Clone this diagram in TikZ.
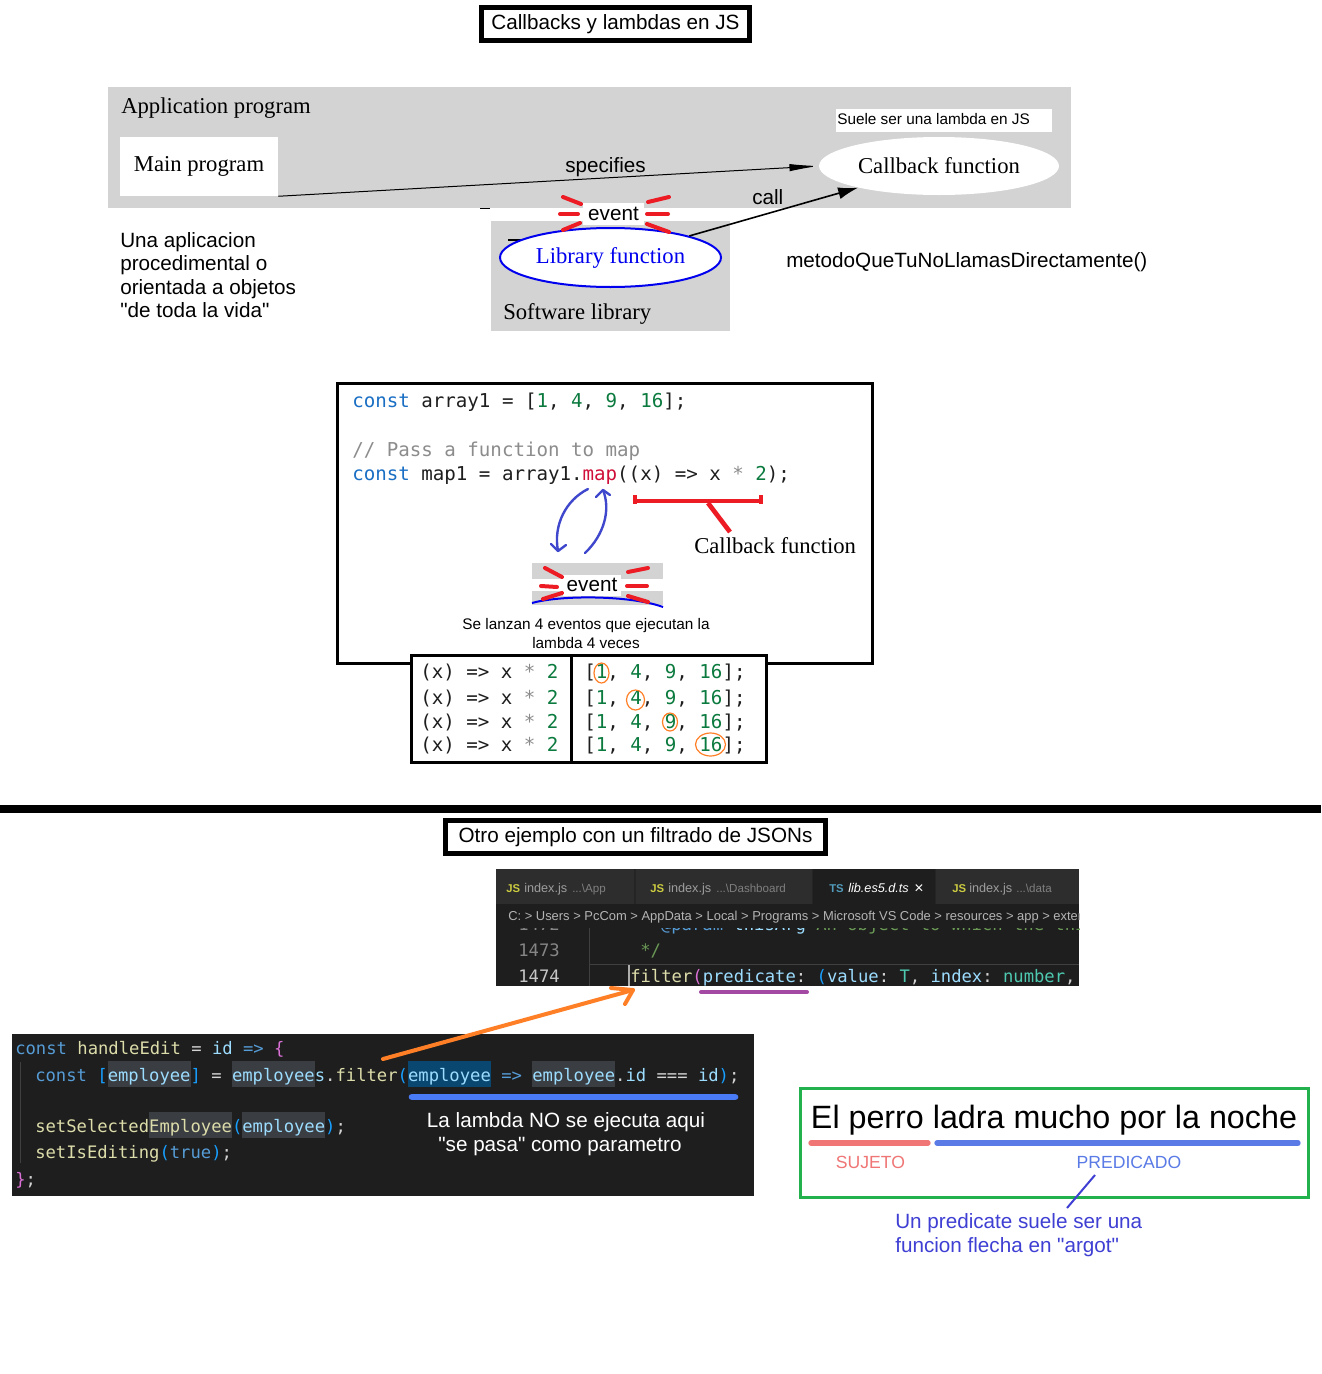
\documentclass[tikz,border=0pt]{standalone}
\usepackage{fontspec}
\setmainfont{Liberation Serif}
\setsansfont{Liberation Sans}[Ligatures=TeXOff]
\setmonofont{DejaVu Sans Mono}
\usetikzlibrary{arrows.meta,shapes.geometric}
\definecolor{appgray}{HTML}{D3D3D3}
\definecolor{evred}{HTML}{ED1C24}
\definecolor{libblue}{HTML}{0000EE}
\definecolor{arrblue}{HTML}{3F48CC}
\definecolor{jskw}{HTML}{1A6FC4}
\definecolor{jsnum}{HTML}{0B7A3E}
\definecolor{jsmap}{HTML}{D0103A}
\definecolor{jscom}{HTML}{8C8C8C}
\definecolor{jstx}{HTML}{1E1E1E}
\definecolor{circ}{HTML}{FF7F27}
\definecolor{vsbg}{HTML}{1E1E1E}
\definecolor{vstabbar}{HTML}{252526}
\definecolor{vstab}{HTML}{2D2D2D}
\definecolor{vskw}{HTML}{569CD6}
\definecolor{vsfn}{HTML}{DCDCAA}
\definecolor{vsvar}{HTML}{9CDCFE}
\definecolor{vstx}{HTML}{D4D4D4}
\definecolor{vspink}{HTML}{DA70D6}
\definecolor{vsbr}{HTML}{179FFF}
\definecolor{vstype}{HTML}{4EC9B0}
\definecolor{vscom}{HTML}{6A9955}
\definecolor{vshlg}{HTML}{3A3D41}
\definecolor{vshlb}{HTML}{094771}
\definecolor{vsln}{HTML}{858585}
\definecolor{vslnact}{HTML}{C6C6C6}
\definecolor{vsguide}{HTML}{404040}
\definecolor{vscursor}{HTML}{AEAFAD}
\definecolor{jsyel}{HTML}{CBCB41}
\definecolor{tsblue}{HTML}{519ABA}
\definecolor{tabtxt}{HTML}{9D9D9D}
\definecolor{tabpath}{HTML}{7F7F7F}
\definecolor{crumbtxt}{HTML}{B4B4B4}
\definecolor{orarr}{HTML}{FF7F27}
\definecolor{purp}{HTML}{A349A4}
\definecolor{ulblue}{HTML}{4A7BF7}
\definecolor{gbox}{HTML}{22B14C}
\definecolor{sred}{HTML}{F07575}
\definecolor{sblue}{HTML}{5A7AE6}
\definecolor{noteblue}{HTML}{3F3FD4}
\newcommand\colt[2]{\textcolor{#1}{#2}}
\newcommand\codehlg[1]{{\setlength{\fboxsep}{0pt}\colorbox{vshlg}{\rule[-4.5pt]{0pt}{19.5pt}#1}}}
\newcommand\codehlb[1]{{\setlength{\fboxsep}{0pt}\colorbox{vshlb}{\rule[-4.5pt]{0pt}{19.5pt}#1}}}
\tikzset{
  sans/.style={font=\sffamily\fontsize{15.5}{18}\selectfont, inner sep=0pt},
  sanssmall/.style={font=\sffamily\fontsize{11.5}{14}\selectfont, inner sep=0pt},
  serif/.style={font=\rmfamily\fontsize{17}{20}\selectfont, inner sep=0pt},
  codeA/.style={font=\ttfamily\fontsize{14.35}{17}\selectfont, anchor=base west, inner sep=0pt, text=jstx},
  codeB/.style={font=\ttfamily\fontsize{12.9}{15}\selectfont, anchor=base west, inner sep=0pt, text=vstx},
  evdash/.style={draw=evred, line width=3pt, line cap=round},
  bluearr/.style={draw=arrblue, line width=1.8pt, line cap=round, line join=round},
  redline/.style={draw=evred, line width=3.5pt},
  circmark/.style={draw=circ, line width=0.9pt},
  orstyle/.style={draw=orarr, line width=3pt, line cap=round, line join=round},
  tabicon/.style={font=\sffamily\bfseries\fontsize{8.5}{10}\selectfont, anchor=base west, inner sep=0pt},
  tabname/.style={font=\sffamily\fontsize{9.5}{11}\selectfont, anchor=base west, inner sep=0pt, text=tabtxt},
  tabpathst/.style={font=\sffamily\fontsize{8.7}{10}\selectfont, anchor=base west, inner sep=0pt, text=tabpath},
}
\begin{document}
\begin{tikzpicture}[x=0.75pt,y=-0.75pt]
\fill[white] (0,0) rectangle (1321,1374);
\useasboundingbox (0,0) rectangle (1321,1374);

% ---------- title 1
\node[sans, draw, line width=3.75pt, minimum width=201pt, minimum height=24.75pt] (title1) at (615.5,24) {Callbacks y lambdas en JS};

% ---------- application program
\fill[appgray] (108,87) rectangle (1071,208);
\node[serif, anchor=base west] (apptitle) at (121,113) {Application program};
\node[serif, fill=white, minimum width=118.5pt, minimum height=44.25pt] (main) at (199,166.5) {Main program};
\node[serif, ellipse, fill=white, minimum width=180pt, minimum height=43.5pt] (cb) at (939,166) {Callback function};
\fill[white] (836,109) rectangle (1052,132);
\node[sanssmall, anchor=base west] (suele) at (837,124) {Suele ser una lambda en JS};

% ---------- software library
\fill[appgray] (491,221) rectangle (730,331);
\draw[line width=0.9pt] (480,208.5) -- (490,208.5);
\draw[line width=1.2pt] (508,240) -- (524,240);
\node[serif, anchor=base west] (swlib) at (503,319) {Software library};
\node[serif, ellipse, draw=libblue, line width=1.5pt, fill=white, text=libblue, minimum width=165.75pt, minimum height=44.25pt] (lib) at (610.5,257.5) {Library function};

% event 1
\node[sans, fill=white, minimum width=45.75pt, minimum height=16.5pt] (ev1) at (613.5,214) {event};
\draw[evdash] (563,197)--(581,204);
\draw[evdash] (560,214)--(578,214);
\draw[evdash] (563,230)--(580,223);
\draw[evdash] (648,202)--(669,197);
\draw[evdash] (647,214)--(668,214);
\draw[evdash] (647,224)--(669,232);

% connectors
\draw[line width=0.75pt, -{Latex[length=22pt,width=5.5pt]}] (main.south east) -- (cb.west);
\node[sans, anchor=base west] (spec) at (565,172) {specifies};
\draw[line width=1.2pt, -{Latex[length=15pt,width=9pt]}] (lib.north east) -- (cb.195);
\node[sans, anchor=base west] (calllbl) at (752,204) {call};

\node[sans, anchor=base west] (metodo) at (786,267) {metodoQueTuNoLlamasDirectamente()};
\node[sans, anchor=base west] (una1) at (120,247) {Una aplicacion};
\node[sans, anchor=base west] (una2) at (120,270.5) {procedimental o};
\node[sans, anchor=base west] (una3) at (120,294) {orientada a objetos};
\node[sans, anchor=base west] (una4) at (120,317.5) {"de toda la vida"};

% ---------- map example
\draw[line width=2.25pt] (337,383) rectangle (872,663);
\node[codeA] (code1) at (352,407) {\colt{jskw}{const} array1 = [\colt{jsnum}{1}, \colt{jsnum}{4}, \colt{jsnum}{9}, \colt{jsnum}{16}];};
\node[codeA] (code2) at (352,456) {\colt{jscom}{// Pass a function to map}};
\node[codeA] (code3) at (352,480) {\colt{jskw}{const} map1 = array1.\colt{jsmap}{map}((x) => x \colt{jscom}{*} \colt{jsnum}{2});};

% red bracket
\draw[redline] (635,495) -- (635,504);
\draw[redline] (635,501) -- (761,501);
\draw[redline] (761,495) -- (761,504);
\draw[redline] (708,503) -- (730,532);
\node[serif, anchor=base west] (cbf2) at (694,553) {Callback function};

% event 2
\fill[appgray] (532,563) rectangle (663,579);
\fill[appgray] (532,591) rectangle (663,605);
\node[sans, fill=white, minimum width=43.5pt, minimum height=15.75pt] (ev2) at (592,585) {event};
\draw[libblue, line width=1.5pt] (532,603) .. controls (560,595) and (630,595) .. (663,607);
\draw[evdash] (545,568)--(562,577);
\draw[evdash] (541,586)--(557,587);
\draw[evdash] (543,599)--(562,593);
\draw[evdash] (628,572)--(648,568);
\draw[evdash] (627,586)--(647,586);
\draw[evdash] (628,596)--(648,602);

% blue arrows
\coordinate (ma1) at (588,489);
\coordinate (ev2a) at (558,551);
\draw[bluearr] (ma1) .. controls (566,500) and (553,525) .. (ev2a);
\draw[bluearr] (551,544) -- (ev2a) -- (566,545);
\coordinate (ev2b) at (585,553);
\coordinate (ma2) at (603,490);
\draw[bluearr] (ev2b) .. controls (604,535) and (611,510) .. (ma2);
\draw[bluearr] (596,497) -- (ma2) -- (610,495);

\node[sanssmall, anchor=base] (se1) at (586,629) {Se lanzan 4 eventos que ejecutan la};
\node[sanssmall, anchor=base] (se2) at (586,648) {lambda 4 veces};

% table
\draw[line width=2.25pt, fill=white] (411,655) rectangle (766,762);
\draw[line width=2.25pt] (571,655) -- (571,762);
\node[codeA] (fl1) at (420,678) {(x) => x \colt{jscom}{*} \colt{jsnum}{2}};
\node[codeA] (fl2) at (420,704) {(x) => x \colt{jscom}{*} \colt{jsnum}{2}};
\node[codeA] (fl3) at (420,728) {(x) => x \colt{jscom}{*} \colt{jsnum}{2}};
\node[codeA] (fl4) at (420,751) {(x) => x \colt{jscom}{*} \colt{jsnum}{2}};
\node[codeA] (fr1) at (584,678) {[\colt{jsnum}{1}, \colt{jsnum}{4}, \colt{jsnum}{9}, \colt{jsnum}{16}];};
\node[codeA] (fr2) at (584,704) {[\colt{jsnum}{1}, \colt{jsnum}{4}, \colt{jsnum}{9}, \colt{jsnum}{16}];};
\node[codeA] (fr3) at (584,728) {[\colt{jsnum}{1}, \colt{jsnum}{4}, \colt{jsnum}{9}, \colt{jsnum}{16}];};
\node[codeA] (fr4) at (584,751) {[\colt{jsnum}{1}, \colt{jsnum}{4}, \colt{jsnum}{9}, \colt{jsnum}{16}];};
\draw[circmark] (601.5,673) ellipse [x radius=7.5, y radius=10];
\draw[circmark] (635.5,700) ellipse [x radius=9, y radius=10];
\draw[circmark] (670,722) ellipse [x radius=7.5, y radius=9];
\draw[circmark] (710.5,744.5) ellipse [x radius=15, y radius=11.5];

% ---------- divider
\draw[line width=6pt] (0,809) -- (1321,809);
\node[sans, draw, line width=3.75pt, minimum width=285pt, minimum height=24.75pt] (title2) at (635.5,837) {Otro ejemplo con un filtrado de JSONs};

% ---------- VS Code
\fill[vstabbar] (496,869) rectangle (1079,904);
\fill[vstab] (496,869) rectangle (634,904);
\fill[vstab] (636,869) rectangle (812,904);
\fill[vsbg] (813,869) rectangle (935,904);
\fill[vstab] (936,869) rectangle (1079,904);
\fill[vsbg] (496,904) rectangle (1079,986);
\node[tabicon, text=jsyel] (t1i) at (506,892) {JS};
\node[tabname] (t1n) at (524,892) {index.js};
\node[tabpathst] (t1p) at (572,892) {...\textbackslash App};
\node[tabicon, text=jsyel] (t2i) at (650,892) {JS};
\node[tabname] (t2n) at (668,892) {index.js};
\node[tabpathst] (t2p) at (716,892) {...\textbackslash Dashboard};
\node[tabicon, text=tsblue] (t3i) at (829,892) {TS};
\node[tabname, text=white, font=\sffamily\itshape\fontsize{9.5}{11}\selectfont] (t3n) at (848,892) {lib.es5.d.ts};
\node[tabname, text=white, font=\sffamily\fontsize{12}{14}\selectfont] (t3x) at (914,893) {×};
\node[tabicon, text=jsyel] (t4i) at (952,892) {JS};
\node[tabname] (t4n) at (969,892) {index.js};
\node[tabpathst] (t4p) at (1016,892) {...\textbackslash data};
\begin{scope}
\clip (496,904) rectangle (1079,928);
\node[tabname, text=crumbtxt, font=\sffamily\fontsize{9.7}{11}\selectfont] (crumb) at (508,920) {C: > Users > PcCom > AppData > Local > Programs > Microsoft VS Code > resources > app > extensions};
\end{scope}
\begin{scope}
\clip (496,928) rectangle (1079,986);
\draw[vsguide, line width=0.75pt] (589,928) -- (589,986);
\draw[vsguide, line width=0.75pt] (589,964) -- (1079,964);
\draw[vscursor, line width=1.2pt] (629,965) -- (629,986);
\node[codeB, anchor=base east, text=vsln] (ln1) at (560,930) {1472};
\node[codeB, anchor=base east, text=vsln] (ln2) at (560,956) {1473};
\node[codeB, anchor=base east, text=vslnact] (ln3) at (560,982) {1474};
\node[codeB] (v1472) at (640,930) {\colt{vscom}{*} \colt{vskw}{@param} \colt{vsvar}{thisArg} \colt{vscom}{An object to which the this keyword can refer}};
\node[codeB] (v1473) at (640,956) {\colt{vscom}{*/}};
\node[codeB] (v1474) at (630,982) {\colt{vsfn}{filter}\colt{vspink}{(}\colt{vsvar}{predicate}: \colt{vsbr}{(}\colt{vsvar}{value}: \colt{vstype}{T}, \colt{vsvar}{index}: \colt{vstype}{number}, \colt{vsvar}{array}: \colt{vstype}{T}[]\colt{vsbr}{)}};
\end{scope}
\draw[purp, line width=3pt, line cap=round] (701,992) -- (807,992);

% ---------- dark code block
\fill[vsbg] (12,1034) rectangle (754,1196);
\draw[vsguide, line width=0.75pt] (20,1062) -- (20,1163);
\node[codeB] (d1) at (15,1054) {\colt{vskw}{const} \colt{vsfn}{handleEdit} = \colt{vsvar}{id} \colt{vskw}{=>} \colt{vspink}{\{}};
\node[codeB] (d2) at (35,1081) {\colt{vskw}{const} \colt{vsbr}{[}\codehlg{\colt{vsvar}{employee}}\colt{vsbr}{]} = \codehlg{\colt{vsvar}{employee}}\colt{vsvar}{s}.\colt{vsfn}{filter}\colt{vsbr}{(}\codehlb{\colt{vsvar}{employee}} \colt{vskw}{=>} \codehlg{\colt{vsvar}{employee}}.\colt{vsvar}{id} === \colt{vsvar}{id}\colt{vsbr}{)};};
\node[codeB] (d3) at (35,1132) {\colt{vsfn}{setSelected}\codehlg{\colt{vsfn}{Employee}}\colt{vsbr}{(}\codehlg{\colt{vsvar}{employee}}\colt{vsbr}{)};};
\node[codeB] (d4) at (35,1158) {\colt{vsfn}{setIsEditing}\colt{vsbr}{(}\colt{vskw}{true}\colt{vsbr}{)};};
\node[codeB] (d5) at (15,1185) {\colt{vspink}{\}};};
\draw[ulblue, line width=5pt, line cap=round] (412,1097) -- (735,1097);
\node[sans, anchor=base, text=white] (lam1) at (566,1127) {La lambda NO se ejecuta aqui};
\node[sans, anchor=base, text=white] (lam2) at (560,1151) {"se pasa" como parametro};

% orange arrow
\coordinate (orS) at (383,1059);
\coordinate (orE) at (633,990);
\draw[orstyle] (orS) -- (orE);
\draw[orstyle] (611,988) -- (orE) -- (625,1004);

% ---------- sentence box
\draw[gbox, line width=2.25pt] (800,1088) rectangle (1308,1197);
\node[font=\sffamily\fontsize{24.2}{29}\selectfont, anchor=base, inner sep=0pt] (perro) at (1054,1128) {El perro ladra mucho por la noche};
\draw[sred, line width=4pt, line cap=round] (811,1143) -- (928,1143);
\draw[sblue, line width=4pt, line cap=round] (937,1143) -- (1298,1143);
\node[font=\sffamily\fontsize{13.2}{16}\selectfont, anchor=base, inner sep=0pt, text=sred] (suj) at (870.5,1168) {SUJETO};
\node[font=\sffamily\fontsize{13.2}{16}\selectfont, anchor=base, inner sep=0pt, text=sblue] (pred) at (1129,1168) {PREDICADO};
\coordinate (predS) at (1095,1175);
\coordinate (noteE) at (1067,1208);
\draw[noteblue, line width=1.5pt] (predS) -- (noteE);
\node[sans, anchor=base west, text=noteblue] (note1) at (895,1228) {Un predicate suele ser una};
\node[sans, anchor=base west, text=noteblue] (note2) at (895,1252) {funcion flecha en "argot"};
\end{tikzpicture}
\end{document}
